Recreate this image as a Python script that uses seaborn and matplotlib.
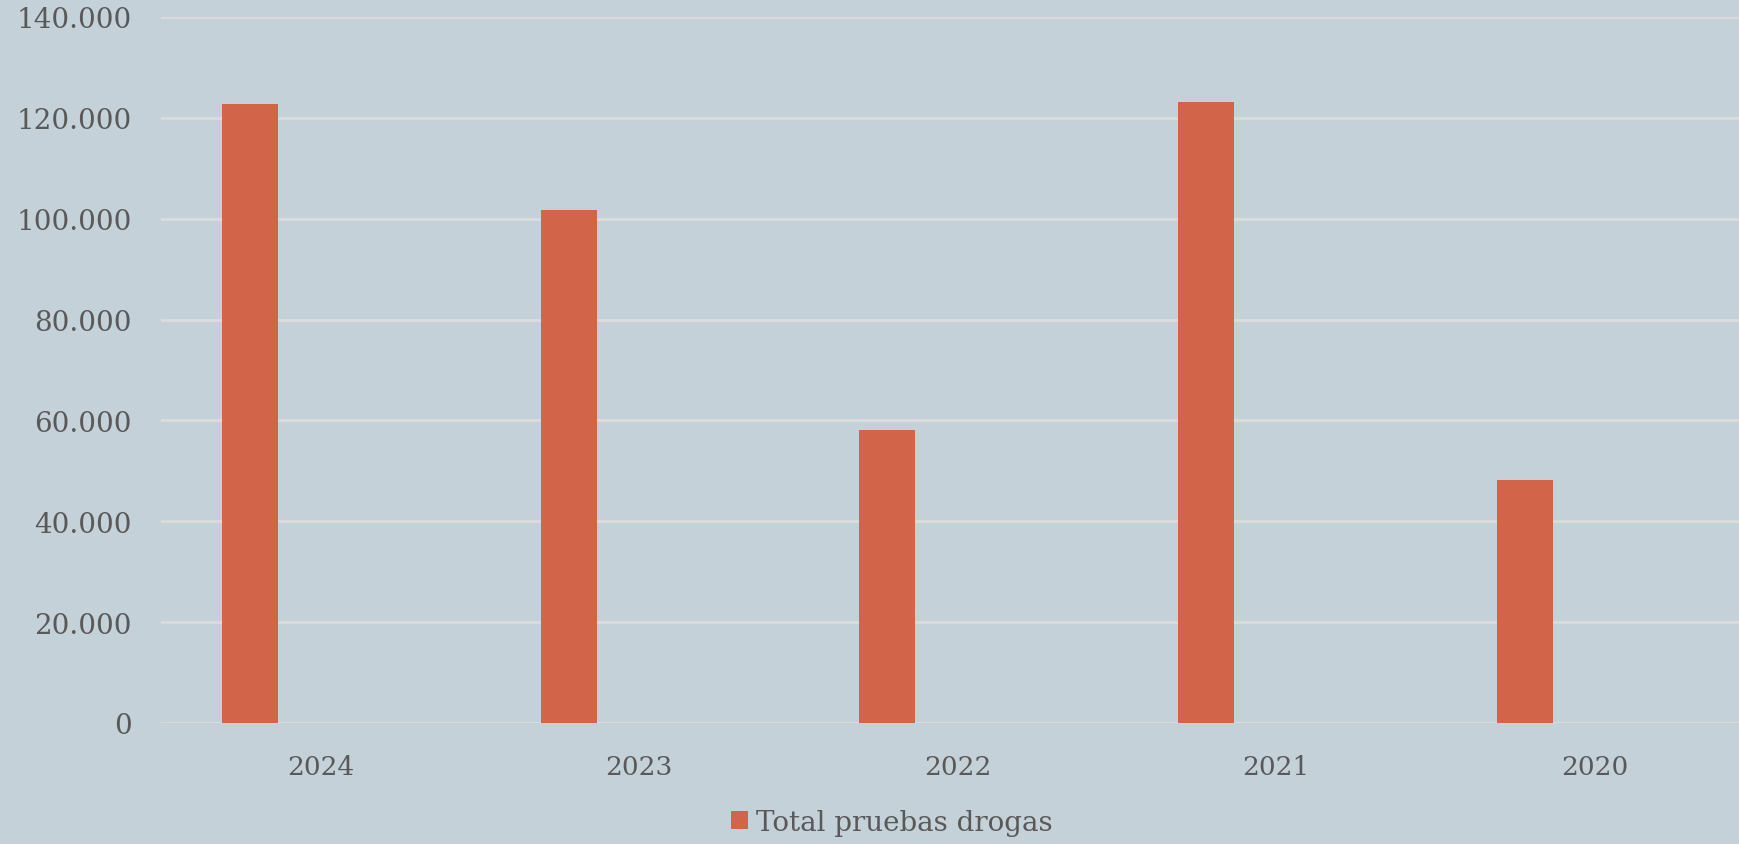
import pandas as pd
import matplotlib
matplotlib.use("Agg")
import matplotlib.pyplot as plt
import seaborn as sns
from matplotlib.ticker import FuncFormatter
from matplotlib.patches import Patch

# Chart data
years = ["2024", "2023", "2022", "2021", "2020"]
total_pruebas = [122800, 101800, 58200, 123100, 48200]
series_name = "Total pruebas drogas"
empty_series = " "  # second (empty) series slot, as in the original clustered chart

BG = "#c5d1d8"
BAR = "#d26549"
TEXT = "#595959"
GRID = "#dcdcdc"

df = pd.DataFrame({"Año": years, "Valor": total_pruebas, "Serie": series_name})

sns.set_theme(style="white")
plt.rcParams["font.family"] = ["DejaVu Serif"]

fig = plt.figure(figsize=(17.39, 8.45), dpi=100)
fig.patch.set_facecolor(BG)
ax = fig.add_axes([0.0926, 0.1432, 0.9160, 0.8355])
ax.set_facecolor(BG)

sns.barplot(data=df, x="Año", y="Valor", hue="Serie",
            hue_order=[series_name, empty_series],
            palette={series_name: BAR, empty_series: BAR},
            dodge=True, width=0.88, gap=0.6, saturation=1,
            linewidth=0, ax=ax, legend=False)

ax.set_ylim(0, 140000)
ax.set_xlim(-0.5, 4.5)
ax.set_yticks(range(0, 140001, 20000))
ax.yaxis.set_major_formatter(FuncFormatter(lambda v, p: f"{int(v):,}".replace(",", ".")))
ax.yaxis.grid(True, color=GRID, linewidth=2)
ax.set_axisbelow(True)
for s in ax.spines.values():
    s.set_visible(False)
ax.tick_params(axis="y", length=0, pad=21, labelsize=20, labelcolor=TEXT)
ax.tick_params(axis="x", length=0, pad=22, labelsize=19, labelcolor=TEXT)
ax.set_xlabel("")
ax.set_ylabel("")

fig.legend(handles=[Patch(facecolor=BAR, edgecolor="none", label=series_name)],
           loc="center", bbox_to_anchor=(0.513, 0.026), frameon=False,
           fontsize=20, labelcolor=TEXT, handlelength=0.6, handleheight=0.6,
           handletextpad=0.3)

fig.savefig("out.png", dpi=100, facecolor=BG)
